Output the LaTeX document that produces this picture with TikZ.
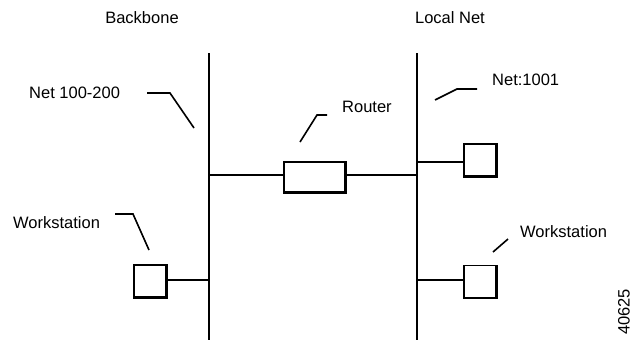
\documentclass[tikz,border=0pt]{standalone}
\usepackage{fontspec}
\setmainfont{Liberation Sans}
\begin{document}
\begin{tikzpicture}[x=1pt,y=-1pt,
  lbl/.style={inner sep=0pt,font=\fontsize{16.5}{18}\selectfont},
  bus/.style={line width=1.3pt},
  leader/.style={line width=1.6pt},
  wsbox/.style={draw,line width=1.3pt,minimum width=32pt,minimum height=32pt,inner sep=0pt},
  rtbox/.style={draw,line width=1.3pt,minimum width=61pt,minimum height=30pt,inner sep=0pt},
  shadowline/.style={line width=2.4pt}]
\useasboundingbox (0,0) rectangle (632,341);
% bus lines
\coordinate (bbtop) at (209,53);
\coordinate (bbbot) at (209,340);
\coordinate (lntop) at (417,53);
\coordinate (lnbot) at (417,340);
\draw[bus] (bbtop) -- (bbbot);
\draw[bus] (lntop) -- (lnbot);
% titles
\node[lbl] (tbb) at (142,18) {Backbone};
\node[lbl] (tln) at (450,18) {Local Net};
% router
\node[rtbox] (rt) at (314.5,177) {};
\draw[shadowline] (rt.south west) -- (rt.south east) -- (rt.north east);
\coordinate (rtl) at (209,175);
\coordinate (rtr) at (417,175);
\draw[bus] (rtl) -- (rt.west |- rtl);
\draw[bus] (rt.east |- rtr) -- (rtr);
% workstations
\node[wsbox] (ws1) at (150,281) {};
\node[wsbox] (ws2) at (480,160) {};
\node[wsbox] (ws3) at (480,281.5) {};
\foreach \w in {ws1,ws2,ws3}
  \draw[shadowline] (\w.south west) -- (\w.south east) -- (\w.north east);
\coordinate (b1) at (209,280);
\coordinate (b2) at (417,162);
\coordinate (b3) at (417,280);
\draw[bus] (b1) -- (ws1.east |- b1);
\draw[bus] (b2) -- (ws2.west |- b2);
\draw[bus] (b3) -- (ws3.west |- b3);
% labels and leaders
\node[lbl,anchor=west] (lnet1) at (29,93) {Net 100-200};
\coordinate (n1a) at (147,93);
\coordinate (n1b) at (170,93);
\coordinate (n1c) at (194,128);
\draw[leader] (n1a) -- (n1b) -- (n1c);

\node[lbl,anchor=west] (lrt) at (342,107) {Router};
\coordinate (r1a) at (300,142);
\coordinate (r1b) at (317,115);
\coordinate (r1c) at (327,115);
\draw[leader] (r1a) -- (r1b) -- (r1c);

\node[lbl,anchor=west] (lnet2) at (492,80) {Net:1001};
\coordinate (n2a) at (435,100);
\coordinate (n2b) at (457,89);
\coordinate (n2c) at (477,89);
\draw[leader] (n2a) -- (n2b) -- (n2c);

\node[lbl,anchor=west] (lws1) at (13,223) {Workstation};
\coordinate (w1a) at (115,214);
\coordinate (w1b) at (133,214);
\coordinate (w1c) at (149,250);
\draw[leader] (w1a) -- (w1b) -- (w1c);

\node[lbl,anchor=west] (lws3) at (520,232) {Workstation};
\coordinate (w3a) at (493,252);
\coordinate (w3b) at (508,239);
\draw[leader] (w3a) -- (w3b);

\node[lbl,rotate=90] (fig) at (624,312) {40625};
\end{tikzpicture}
\end{document}
